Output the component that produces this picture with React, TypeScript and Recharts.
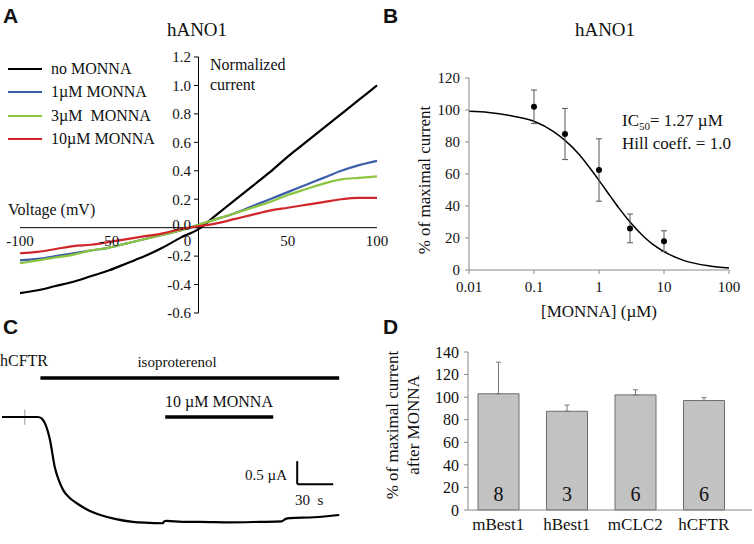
import {
  LineChart, Line, XAxis, YAxis, ReferenceLine,
  ComposedChart, Scatter, ErrorBar, BarChart, Bar, LabelList,
} from 'recharts'

const SERIF = '"Liberation Serif", "Times New Roman", serif'
const SANS = '"Liberation Sans", Arial, sans-serif'

// ---- Panel A: normalized I/V curves ----
const VOLTAGES = [-100, -90, -80, -70, -60, -50, -40, -30, -20, -10, 0, 10, 20, 30, 40, 50, 60, 70, 80, 90, 100]
const NO_MONNA = [-0.46, -0.44, -0.41, -0.38, -0.34, -0.30, -0.25, -0.20, -0.14, -0.07, -0.01, 0.09, 0.19, 0.29, 0.39, 0.50, 0.60, 0.70, 0.80, 0.90, 1.00]
const MONNA_1 = [-0.23, -0.22, -0.20, -0.18, -0.16, -0.14, -0.11, -0.08, -0.05, -0.02, 0.02, 0.06, 0.10, 0.15, 0.20, 0.25, 0.30, 0.35, 0.40, 0.44, 0.47]
const MONNA_3 = [-0.25, -0.23, -0.21, -0.19, -0.16, -0.14, -0.11, -0.08, -0.05, -0.02, 0.02, 0.06, 0.10, 0.14, 0.18, 0.23, 0.27, 0.31, 0.34, 0.35, 0.36]
const MONNA_10 = [-0.18, -0.17, -0.15, -0.13, -0.12, -0.10, -0.08, -0.06, -0.04, -0.01, 0.01, 0.03, 0.06, 0.09, 0.12, 0.14, 0.16, 0.18, 0.20, 0.21, 0.21]
const IV_SERIES = [
  { key: 'none', label: 'no MONNA', color: '#000000', values: NO_MONNA },
  { key: 'm1', label: '1µM MONNA', color: '#3d5ea8', values: MONNA_1 },
  { key: 'm3', label: '3µM  MONNA', color: '#8cc63f', values: MONNA_3 },
  { key: 'm10', label: '10µM MONNA', color: '#d0252a', values: MONNA_10 },
]
const A_X_TICKS = [-100, -50, 0, 50, 100]
const A_Y_TICKS = [-0.6, -0.4, -0.2, 0.0, 0.2, 0.4, 0.6, 0.8, 1.0, 1.2]

const ivData = VOLTAGES.map((v, i) => {
  const row: Record<string, number> = { v }
  IV_SERIES.forEach(s => { row[s.key] = s.values[i] })
  return row
})

// ---- Panel B: dose response ----
const DOSE_CONC = [0.1, 0.3, 1, 3, 10]
const DOSE_PCT = [102, 85, 62.5, 26, 18]
const DOSE_ERR = [10.5, 16, 19.5, 9, 6.5]
const FIT_CONC = [0.01, 0.02, 0.05, 0.1, 0.2, 0.3, 0.5, 0.7, 1, 1.5, 2, 3, 5, 7, 10, 20, 50, 100]
const FIT_PCT = [99.2, 98.5, 96, 93, 86.5, 81, 72, 64.5, 56, 46, 39, 30, 20.5, 15.5, 11.5, 6, 2.5, 1.2]
const B_X_TICKS = [0.01, 0.1, 1, 10, 100]
const B_Y_TICKS = [0, 20, 40, 60, 80, 100, 120]

const dosePoints = DOSE_CONC.map((c, i) => ({ conc: c, pct: DOSE_PCT[i], err: DOSE_ERR[i] }))
const fitLine = FIT_CONC.map((c, i) => ({ conc: c, pct: FIT_PCT[i] }))

// ---- Panel C: hCFTR current trace ----
const TRACE_TIME = [0, 15, 30, 33, 36, 40, 44, 47, 51, 56, 62, 70, 82, 95, 109, 122, 134, 135, 137, 150, 165, 190, 215, 233, 236, 240, 260, 281]
const TRACE_UA = [0, 0, 0, -0.03, -0.15, -0.5, -1.09, -1.35, -1.59, -1.75, -1.87, -2.0, -2.13, -2.22, -2.28, -2.3, -2.31, -2.27, -2.26, -2.28, -2.28, -2.29, -2.28, -2.27, -2.22, -2.2, -2.18, -2.13]
const DRUG_BARS = [
  { label: 'isoproterenol', start: 32, end: 281, level: 0.85 },
  { label: '10 µM MONNA', start: 136, end: 226, level: 0 },
]
const SCALE_BAR = [{ x: 246, y: -0.96 }, { x: 246, y: -1.46 }, { x: 276, y: -1.46 }]
const MARKER = [{ x: 19, y: 0.16 }, { x: 19, y: -0.17 }]

const traceData = TRACE_TIME.map((t, i) => ({ t, ua: TRACE_UA[i] }))

// ---- Panel D: other channels ----
const CHANNELS = ['mBest1', 'hBest1', 'mCLC2', 'hCFTR']
const CHANNEL_PCT = [103, 87.5, 102, 97]
const CHANNEL_ERR = [28, 5.5, 4.5, 2.5]
const CHANNEL_N = [8, 3, 6, 6]
const D_Y_TICKS = [0, 20, 40, 60, 80, 100, 120, 140]

const channelData = CHANNELS.map((name, i) => ({
  name, pct: CHANNEL_PCT[i], err: [0, CHANNEL_ERR[i]], n: CHANNEL_N[i],
}))

function Txt({ x, y, size = 15, anchor = 'start', children, bold = false, font = SERIF, rotate = false }: {
  x: number; y: number; size?: number; anchor?: 'start' | 'middle' | 'end'
  children: React.ReactNode; bold?: boolean; font?: string; rotate?: boolean
}) {
  const tx = anchor === 'middle' ? '-50%' : anchor === 'end' ? '-100%' : '0'
  return (
    <div
      style={{
        position: 'absolute', left: x, top: y, fontSize: size, lineHeight: 1,
        fontFamily: font, fontWeight: bold ? 700 : 400, whiteSpace: 'pre', color: '#111',
        transform: `translate(${tx}, -50%)${rotate ? ' rotate(-90deg)' : ''}`,
      }}
    >
      {children}
    </div>
  )
}

const tickFont = { fontSize: 15, fill: '#111', fontFamily: SERIF, style: { fontFamily: SERIF } }
const chartBox = (left: number, top: number) => ({ position: 'absolute' as const, left, top, fontFamily: SERIF })

function PanelA() {
  return (
    <>
      <Txt x={3} y={15} size={21} bold font={SANS}>A</Txt>
      <Txt x={197} y={29} size={19} anchor="middle">hANO1</Txt>
      <Txt x={210} y={65} size={16}>Normalized</Txt>
      <Txt x={210} y={85} size={16}>current</Txt>
      <Txt x={8} y={210} size={16}>Voltage (mV)</Txt>

      {/* legend */}
      {IV_SERIES.map((s, i) => (
        <div key={s.key} style={{ position: 'absolute', left: 8, top: 69 + i * 23.3, height: 0 }}>
          <div style={{ position: 'absolute', left: 0, top: -1, width: 34, height: 2, background: s.color }} />
          <Txt x={43} y={0} size={16}>{s.label}</Txt>
        </div>
      ))}

      <div style={chartBox(0, 0)}>
        <LineChart width={395} height={330} data={ivData} margin={{ top: 57, right: 18, bottom: 17, left: 20 }}>
          <XAxis type="number" dataKey="v" domain={[-100, 100]} hide />
          <YAxis type="number" domain={[-0.6, 1.2]} hide />
          <ReferenceLine y={0} stroke="#000" strokeWidth={1} />
          <ReferenceLine x={0} stroke="#000" strokeWidth={1} />
          {A_Y_TICKS.map(t => (
            <ReferenceLine
              key={`y${t}`}
              segment={[{ x: -2.5, y: t }, { x: 0, y: t }]}
              stroke="#000"
              label={{ value: t.toFixed(1), position: 'left', offset: 3, dy: t === 0 ? -3 : 0, ...tickFont }}
            />
          ))}
          {A_X_TICKS.map(t => (
            <ReferenceLine
              key={`x${t}`}
              segment={[{ x: t, y: 0 }, { x: t, y: -0.01 }]}
              stroke="none"
              label={{ value: String(t), position: 'bottom', offset: 6, dx: t === 0 ? -11 : 0, ...tickFont }}
            />
          ))}
          {IV_SERIES.map(s => (
            <Line
              key={s.key}
              dataKey={s.key}
              type="monotone"
              stroke={s.color}
              strokeWidth={2.2}
              dot={false}
              isAnimationActive={false}
            />
          ))}
        </LineChart>
      </div>
    </>
  )
}

function PanelB() {
  return (
    <>
      <Txt x={383} y={15} size={21} bold font={SANS}>B</Txt>
      <Txt x={605} y={29} size={19} anchor="middle">hANO1</Txt>
      <Txt x={622} y={122} size={17}>IC<sub style={{ fontSize: 11 }}>50</sub>= 1.27 µM</Txt>
      <Txt x={622} y={143} size={17}>Hill coeff. = 1.0</Txt>
      <Txt x={424} y={180} size={17} anchor="middle" rotate>% of maximal current</Txt>
      <Txt x={599} y={311} size={17} anchor="middle">[MONNA] (µM)</Txt>

      <div style={chartBox(380, 40)}>
        <ComposedChart width={374} height={280} margin={{ top: 38, right: 25, bottom: 0, left: 0 }}>
          <XAxis
            type="number"
            dataKey="conc"
            scale="log"
            domain={[0.01, 100]}
            ticks={B_X_TICKS}
            interval={0}
            allowDataOverflow
            height={50}
            tick={tickFont}
            tickFormatter={v => String(v)}
            stroke="#888"
            tickSize={4}
            tickMargin={7}
          />
          <YAxis
            type="number"
            domain={[0, 120]}
            ticks={B_Y_TICKS}
            interval={0}
            width={89}
            tick={tickFont}
            stroke="#888"
            tickSize={4}
            tickMargin={5}
          />
          <Line
            data={fitLine}
            dataKey="pct"
            type="monotone"
            stroke="#000"
            strokeWidth={1.5}
            dot={false}
            isAnimationActive={false}
          />
          <Scatter
            data={dosePoints}
            dataKey="pct"
            isAnimationActive={false}
            shape={(p: { cx?: number; cy?: number }) => <circle cx={p.cx} cy={p.cy} r={3} fill="#000" />}
          >
            <ErrorBar dataKey="err" direction="y" width={3} stroke="#555" strokeWidth={1} />
          </Scatter>
        </ComposedChart>
      </div>
    </>
  )
}

function PanelC() {
  return (
    <>
      <Txt x={3} y={326} size={21} bold font={SANS}>C</Txt>
      <Txt x={0} y={361} size={16}>hCFTR</Txt>
      <Txt x={177} y={362} size={15} anchor="middle">{DRUG_BARS[0].label}</Txt>
      <Txt x={219} y={402} size={16} anchor="middle">{DRUG_BARS[1].label}</Txt>
      <Txt x={287} y={475} size={15} anchor="end">0.5 µA</Txt>
      <Txt x={295} y={500} size={15}>30  s</Txt>

      <div style={chartBox(0, 330)}>
        <LineChart width={350} height={210} data={traceData} margin={{ top: 0, right: 0, bottom: 0, left: 0 }}>
          <XAxis type="number" dataKey="t" domain={[-1.67, 290]} hide />
          <YAxis type="number" domain={[-2.674, 1.891]} hide />
          {DRUG_BARS.map(b => (
            <ReferenceLine
              key={b.label}
              segment={[{ x: b.start, y: b.level }, { x: b.end, y: b.level }]}
              stroke="#000"
              strokeWidth={3.5}
            />
          ))}
          <ReferenceLine segment={[SCALE_BAR[0], SCALE_BAR[1]]} stroke="#000" strokeWidth={2} />
          <ReferenceLine segment={[SCALE_BAR[1], SCALE_BAR[2]]} stroke="#000" strokeWidth={2} />
          <ReferenceLine segment={[MARKER[0], MARKER[1]]} stroke="#999" strokeWidth={1} />
          <Line
            dataKey="ua"
            type="monotone"
            stroke="#000"
            strokeWidth={2.2}
            dot={false}
            isAnimationActive={false}
          />
        </LineChart>
      </div>
    </>
  )
}

function PanelD() {
  return (
    <>
      <Txt x={383} y={326} size={21} bold font={SANS}>D</Txt>
      <Txt x={392} y={425} size={17} anchor="middle" rotate>% of maximal current</Txt>
      <Txt x={413} y={425} size={17} anchor="middle" rotate>after MONNA</Txt>

      <div style={chartBox(380, 330)}>
        <BarChart width={374} height={214} data={channelData} margin={{ top: 22, right: 2, bottom: 0, left: 0 }}>
          <XAxis
            dataKey="name"
            padding={{ left: -4, right: 14 }}
            height={34}
            interval={0}
            tick={{ ...tickFont, fontSize: 17 }}
            tickLine={false}
            tickSize={0}
            tickMargin={8}
            stroke="#888"
          />
          <YAxis
            type="number"
            domain={[0, 140]}
            ticks={D_Y_TICKS}
            interval={0}
            width={88}
            tick={{ ...tickFont, fontSize: 16 }}
            stroke="#888"
            tickSize={4}
            tickMargin={5}
          />
          <Bar dataKey="pct" barSize={41} fill="#c2c2c2" stroke="#6e6e6e" strokeWidth={1} isAnimationActive={false}>
            <ErrorBar dataKey="err" direction="y" width={2.5} stroke="#777" strokeWidth={1} />
            <LabelList dataKey="n" position="insideBottom" offset={9} style={{ fontSize: 20, fill: '#111', fontFamily: SERIF }} />
          </Bar>
        </BarChart>
      </div>
    </>
  )
}

export default function App() {
  return (
    <div style={{ position: 'absolute', left: 0, top: 0, width: 754, height: 544, background: '#fff', overflow: 'hidden', fontFamily: SERIF }}>
      <PanelA />
      <PanelB />
      <PanelC />
      <PanelD />
    </div>
  )
}
